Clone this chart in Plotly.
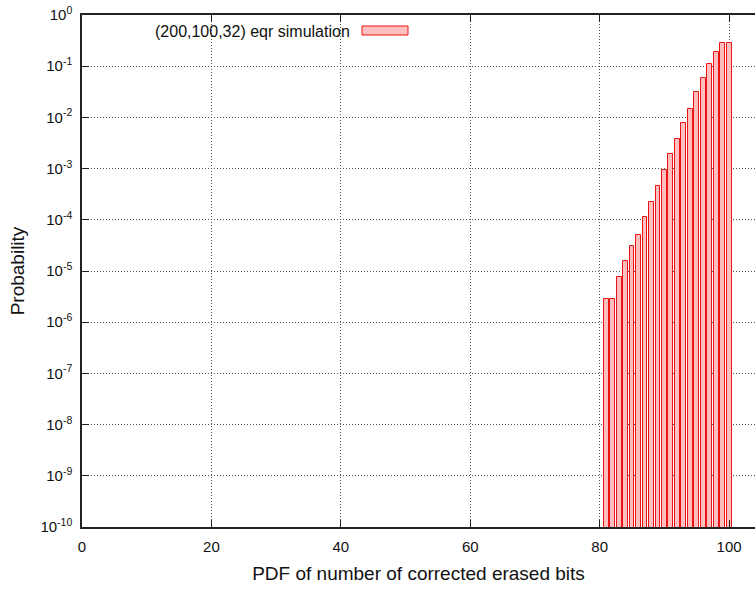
import plotly.graph_objects as go

bits = list(range(81, 101))
prob = [2.9e-6, 2.9e-6, 7.8e-6, 1.6e-5, 3.05e-5, 5.1e-5, 1.15e-4, 2.26e-4,
        4.65e-4, 9.5e-4, 1.96e-3, 3.86e-3, 7.8e-3, 1.49e-2, 3.1e-2, 5.8e-2,
        0.11, 0.191, 0.287, 0.287]
series_name = "(200,100,32) eqr simulation"
x_ticks = [0, 20, 40, 60, 80, 100]
y_exps = list(range(-10, 1))

FONT = "Liberation Sans, Arial, Helvetica, sans-serif"
FILL = "rgb(255,191,191)"
EDGE = "rgb(235,20,20)"
GRID = "#555555"

L, R, T, B = 82, 0, 15, 62
W, H = 755, 589

fig = go.Figure()
fig.add_trace(go.Bar(
    x=bits, y=prob, width=0.75,
    marker=dict(color=FILL, line=dict(color=EDGE, width=1)),
    name=series_name, showlegend=False,
))

fig.update_layout(
    width=W, height=H,
    margin=dict(l=L, r=R, t=T, b=B),
    paper_bgcolor="white", plot_bgcolor="white",
    font=dict(family=FONT, size=15, color="#111111"),
    bargap=0,
)
fig.update_xaxes(
    range=[0, 104.0], tickvals=x_ticks, ticktext=[str(v) for v in x_ticks],
    showline=True, linecolor="#222222", linewidth=1.5, mirror="ticks",
    ticks="inside", ticklen=7, tickcolor="#222222",
    showgrid=True, gridcolor=GRID, griddash="1px,2px", gridwidth=1,
    zeroline=False, ticklabelstandoff=5,
    title=dict(text="PDF of number of corrected erased bits", font=dict(size=19), standoff=13),
    tickfont=dict(size=15),
)
fig.update_yaxes(
    type="log", range=[-10, 0],
    tickvals=[10.0 ** e for e in y_exps],
    ticktext=["10<sup>%d</sup>" % e for e in y_exps],
    showline=True, linecolor="#222222", linewidth=1.5, mirror=False,
    ticks="inside", ticklen=7, tickcolor="#222222",
    showgrid=True, gridcolor=GRID, griddash="1px,2px", gridwidth=1,
    zeroline=False, ticklabelstandoff=5,
    title=dict(text="Probability", font=dict(size=19), standoff=11),
    tickfont=dict(size=15),
)

pw = W - L - R
ph = H - T - B

def px_x(x):
    return (x - L) / pw

def px_y(y):
    return 1 - (y - T) / ph

# legend in gnuplot style: text then sample box
fig.add_annotation(
    x=px_x(352), y=px_y(31), xref="paper", yref="paper", text=series_name, showarrow=False,
    xanchor="right", yanchor="middle", font=dict(size=16),
)
fig.add_shape(type="rect", xref="paper", yref="paper",
              x0=px_x(362), x1=px_x(408), y0=px_y(35), y1=px_y(26),
              fillcolor=FILL, line=dict(color=EDGE, width=1))

fig.write_html("out.html")
